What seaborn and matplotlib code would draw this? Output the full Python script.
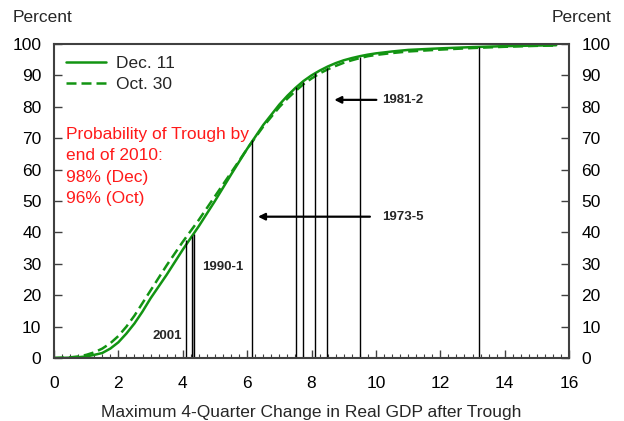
import numpy as np
import matplotlib
matplotlib.use("Agg")
import matplotlib.pyplot as plt
import seaborn as sns
import pandas as pd
from matplotlib.ticker import MultipleLocator

# cumulative probability curves (percent) vs max 4-quarter GDP change
gdp_x = [0, 0.5, 0.75, 1, 1.25, 1.5, 1.75, 2, 2.25, 2.5, 2.75, 3, 3.5, 4, 4.5, 5, 5.5, 6, 6.5,
         7, 7.25, 7.5, 7.75, 8, 8.25, 8.5, 8.75, 9, 9.25, 9.5, 9.75, 10, 10.5, 11, 12, 13, 14, 15, 15.6]
dec_11 = [0, 0.1, 0.25, 0.5, 1.0, 1.6, 3.0, 5.0, 7.8, 11, 14.8, 19, 26.5, 34.5, 42, 50, 58.4, 66.6, 74.2,
          80.7, 83.5, 86, 88.2, 90, 91.5, 92.8, 93.9, 94.8, 95.5, 96.1, 96.6, 97, 97.6, 98.1, 98.6, 99.0, 99.3, 99.5, 99.6]
oct_30 = [0, 0.2, 0.5, 1.0, 1.8, 3.0, 4.7, 7.0, 10, 13.5, 17.5, 21.5, 29.5, 37, 44, 51.5, 59, 66.6, 73.7,
          79.9, 82.6, 85, 87.2, 89, 90.6, 91.9, 93, 94, 94.8, 95.5, 96.1, 96.5, 97.1, 97.6, 98.2, 98.7, 99.1, 99.4, 99.5]

# past recoveries: vertical markers
trough_x = [4.11, 4.30, 4.36, 6.16, 7.53, 7.73, 8.10, 8.47, 9.51, 13.21]
trough_y = [37.5, 39.0, 39.5, 69.4, 86.2, 88.0, 90.7, 92.5, 96.0, 99.1]

df = pd.DataFrame({
    "x": gdp_x * 2,
    "y": dec_11 + oct_30,
    "series": ["Dec. 11"] * len(gdp_x) + ["Oct. 30"] * len(gdp_x),
})

sns.set_style("ticks")
plt.rcParams["font.family"] = ["Liberation Sans", "DejaVu Sans"]

fig = plt.figure(figsize=(6.24, 4.21), dpi=100)
ax = fig.add_axes([0.0865, 0.1496, 0.8255, 0.746])

green = "#129412"
sns.lineplot(data=df, x="x", y="y", hue="series", style="series",
             palette=[green, green], dashes=[(None, None), (4, 2)],
             linewidth=1.8, ax=ax)

ax.vlines(trough_x, 0, trough_y, color="black", linewidth=1.0)
ax.fill_between(trough_x[1:3], 0, min(trough_y[1:3]), color="#bbbbbb", linewidth=0)

# arrows and labels
ax.annotate("", xy=(6.25, 45), xytext=(9.9, 45),
            arrowprops=dict(arrowstyle="-|>", color="black", lw=1.6, mutation_scale=10))
ax.text(10.2, 45, "1973-5", fontsize=9.5, fontweight="bold", va="center")
ax.annotate("", xy=(8.62, 82.2), xytext=(10.1, 82.2),
            arrowprops=dict(arrowstyle="-|>", color="black", lw=1.6, mutation_scale=10))
ax.text(10.2, 82.2, "1981-2", fontsize=9.5, fontweight="bold", va="center")
ax.text(4.6, 29, "1990-1", fontsize=9.5, fontweight="bold", va="center")
ax.text(3.05, 7, "2001", fontsize=9.5, fontweight="bold", va="center")

ax.text(0.38, 73.6, "Probability of Trough by\nend of 2010:\n98% (Dec)\n96% (Oct)",
        color="#ff1a1a", fontsize=12.5, va="top", ha="left", linespacing=1.53)

ax.set_xlim(0, 16)
ax.set_ylim(0, 100)
ax.xaxis.set_major_locator(MultipleLocator(2))
ax.xaxis.set_minor_locator(MultipleLocator(0.25))
ax.yaxis.set_major_locator(MultipleLocator(10))
ax.tick_params(axis="both", which="both", direction="in", colors="#404040",
               labelcolor="black", labelsize=12.5)
ax.tick_params(axis="y", which="major", left=True, right=True, labelleft=True,
               labelright=True, length=6, width=1, pad=9)
ax.tick_params(axis="x", which="major", length=6, width=1, pad=13)
ax.tick_params(axis="x", which="minor", length=3, width=0.8)
for s in ax.spines.values():
    s.set_color("#404040")
    s.set_linewidth(1.5)

ax.set_xlabel("Maximum 4-Quarter Change in Real GDP after Trough", fontsize=12.5, labelpad=10)
ax.set_ylabel("")

leg = ax.legend(loc="upper left", frameon=False, fontsize=12.5, handlelength=2.3,
                borderaxespad=0.3, labelspacing=0.35, handletextpad=0.6)

fig.text(0.02, 0.958, "Percent", fontsize=12.5, va="center", ha="left")
fig.text(0.98, 0.958, "Percent", fontsize=12.5, va="center", ha="right")

fig.savefig("out.png", dpi=100)
